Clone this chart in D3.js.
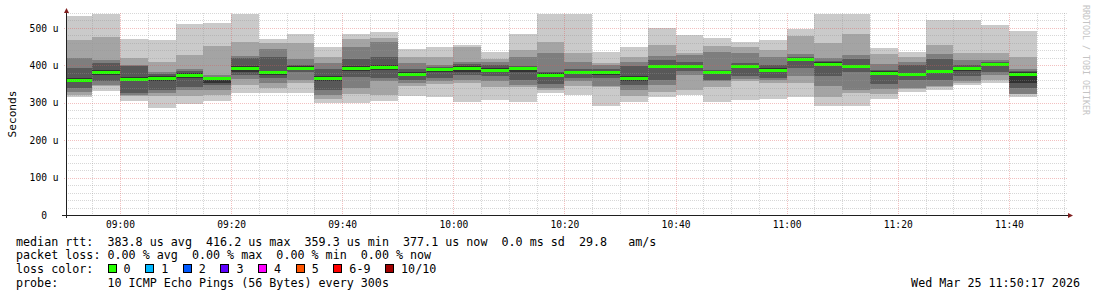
<!DOCTYPE html>
<html>
<head>
<meta charset="utf-8">
<script src="https://cdn.jsdelivr.net/npm/d3@7"></script>
<style>
  html, body { margin: 0; padding: 0; background: #fff; }
  svg text { font-family: "DejaVu Sans Mono", monospace; white-space: pre; }
</style>
</head>
<body>
<div id="chart"></div>
<script>
// graph window, kept in UTC so the local timezone moves nothing
const startTime = new Date(Date.UTC(2026, 2, 25, 8, 50, 17));
const endTime = new Date(Date.UTC(2026, 2, 25, 11, 50, 17));
const firstBar = new Date(Date.UTC(2026, 2, 25, 8, 50, 0));
const lastBarEnd = new Date(Date.UTC(2026, 2, 25, 11, 45, 0));

// 10 pings per 5 minute step, sorted low (ping1) to high (ping10), in us
const ping1 = [315,332,306,287,297,306,327,327,327,299,299,306,318,315,301,307,303,327,321,292,302,316,320,302,307,310,315,292,292,311,330,334,348,352,315];
const ping2 = [321,345,318,318,318,321,348,340,354,310,324,321,345,350,354,343,342,334,345,342,318,330,334,342,357,352,354,316,326,324,337,342,354,361,324];
const ping3 = [330,348,321,327,334,334,363,354,361,321,339,357,352,359,361,359,348,339,357,345,333,348,374,357,363,361,372,345,334,338,340,345,359,374,324];
const ping4 = [339,359,326,334,343,348,374,365,381,334,370,367,361,365,374,372,361,350,365,365,348,361,385,361,372,367,392,372,383,350,361,361,372,383,339];
const ping5 = [355,374,357,359,367,353,381,374,388,359,386,388,374,382,383,381,383,370,377,374,359,392,392,377,392,383,413,400,395,373,372,381,386,398,354];
const ping6 = [365,388,370,372,379,367,397,386,397,372,397,400,381,392,397,392,395,379,386,386,372,400,400,384,402,392,420,409,401,384,380,388,395,406,381];
const ping7 = [392,406,397,377,385,370,419,423,401,390,416,423,390,395,404,401,397,383,390,390,397,414,410,388,406,401,423,413,416,388,401,416,401,408,384];
const ping8 = [419,414,401,383,390,374,425,443,417,406,448,462,406,401,410,408,423,434,410,401,408,425,428,437,434,422,430,419,428,404,410,430,414,414,390];
const ping9 = [468,477,421,410,428,452,463,461,461,423,470,473,423,422,448,416,441,463,434,406,423,455,434,452,448,441,479,461,484,430,422,455,434,434,423];
const ping10 = [532,536,471,468,511,514,536,470,484,450,484,489,443,448,455,437,484,536,536,437,450,499,481,473,462,468,497,536,536,446,437,520,521,508,492];

// median rtt per step, us
const median = [360,382,363,366,374,365,393,382,393,366,393,395,378,389,393,388,392,375,382,382,366,397,397,381,398,388,417,405,398,380,376,384,392,403,378];

const yTicks = [0, 100, 200, 300, 400, 500];
const yMax = 540;

// smoke greys (outer pair lightest) and loss colours
const bandColors = ["#cacaca", "#a4a4a4", "#7e7e7e", "#585858", "#323232"];
const lossLabels = ["0", "1", "2", "3", "4", "5", "6-9", "10/10"];
const lossColors = ["#26ff00", "#00b8ff", "#0059ff", "#5e00ff", "#ff00ff", "#ff5500", "#ff0000", "#a00000"];

const legendLines = [
    "median rtt:  383.8 us avg  416.2 us max  359.3 us min  377.1 us now  0.0 ms sd  29.8   am/s",
    "packet loss: 0.00 % avg  0.00 % max  0.00 % min  0.00 % now",
    "loss color:",
    "probe:       10 ICMP Echo Pings (56 Bytes) every 300s"
];
const dateText = "Wed Mar 25 11:50:17 2026";

const width = 1097;
const height = 297;
const plot = {left: 66, right: 1066, top: 13, bottom: 215};

const x = d3.scaleUtc().domain([startTime, endTime]).range([plot.left, plot.right]);
const y = d3.scaleLinear().domain([0, yMax]).range([plot.bottom, plot.top]);

const svg = d3.select("#chart").append("svg")
    .attr("width", width)
    .attr("height", height)
    .attr("viewBox", [0, 0, width, height]);

svg.append("rect").attr("width", width).attr("height", height).attr("fill", "#fff");

svg.append("clipPath").attr("id", "plotclip")
    .append("rect")
    .attr("x", plot.left).attr("y", plot.top)
    .attr("width", plot.right - plot.left).attr("height", plot.bottom - plot.top);

// step start times
const barTimes = d3.utcMinute.every(5).range(firstBar, lastBarEnd);
const pings = [ping1, ping2, ping3, ping4, ping5, ping6, ping7, ping8, ping9, ping10];

const bars = svg.append("g")
    .attr("clip-path", "url(#plotclip)")
    .attr("shape-rendering", "crispEdges");

// smoke: pair k spans ping(k+1) .. ping(10-k)
bandColors.forEach((color, k) => {
    bars.append("g")
        .attr("fill", color)
        .selectAll("rect")
        .data(barTimes)
        .join("rect")
        .attr("x", d => Math.round(x(d)))
        .attr("width", d => Math.round(x(d3.utcMinute.offset(d, 5))) - Math.round(x(d)))
        .attr("y", (d, i) => Math.round(y(pings[9 - k][i])))
        .attr("height", (d, i) => Math.round(y(pings[k][i])) - Math.round(y(pings[9 - k][i])));
});

// median, coloured by loss (all 0 here)
bars.append("g")
    .attr("fill", lossColors[0])
    .selectAll("rect")
    .data(barTimes)
    .join("rect")
    .attr("x", d => Math.round(x(d)))
    .attr("width", d => Math.round(x(d3.utcMinute.offset(d, 5))) - Math.round(x(d)))
    .attr("y", (d, i) => Math.round(y(median[i])) - 1)
    .attr("height", 3);

// grid drawn over the smoke, like rrdtool
const grid = svg.append("g").attr("stroke-dasharray", "1,1").attr("fill", "none");
const minorY = d3.range(20, yMax + 1, 20).filter(v => v % 100 !== 0);
const majorY = yTicks.filter(v => v > 0);
const minorX = d3.utcMinute.every(5).range(d3.utcMinute.offset(firstBar, 5), endTime)
    .filter(t => t.getUTCMinutes() % 20 !== 0);
const majorX = x.ticks(d3.utcMinute.every(20));

const minorColor = "rgba(150,150,150,0.38)";
const majorColor = "rgba(222,90,90,0.38)";

grid.append("g").attr("stroke", minorColor)
    .selectAll("line").data(minorY).join("line")
    .attr("x1", plot.left).attr("x2", plot.right + 2)
    .attr("y1", d => Math.round(y(d)) + 0.5).attr("y2", d => Math.round(y(d)) + 0.5);
grid.append("g").attr("stroke", minorColor)
    .selectAll("line").data(minorX).join("line")
    .attr("x1", d => Math.round(x(d)) + 0.5).attr("x2", d => Math.round(x(d)) + 0.5)
    .attr("y1", plot.top).attr("y2", plot.bottom);
grid.append("g").attr("stroke", majorColor)
    .selectAll("line").data(majorY).join("line")
    .attr("x1", plot.left - 2).attr("x2", plot.right + 2)
    .attr("y1", d => Math.round(y(d)) + 0.5).attr("y2", d => Math.round(y(d)) + 0.5);
grid.append("g").attr("stroke", majorColor)
    .selectAll("line").data(majorX).join("line")
    .attr("x1", d => Math.round(x(d)) + 0.5).attr("x2", d => Math.round(x(d)) + 0.5)
    .attr("y1", plot.top).attr("y2", plot.bottom + 2);

// axis labels
svg.append("g")
    .attr("transform", `translate(${plot.left},0)`)
    .call(d3.axisLeft(y).tickValues(yTicks).tickSize(0).tickPadding(7.5)
        .tickFormat(d => d === 0 ? "0  " : `${d} u`))
    .call(g => g.select(".domain").remove())
    .call(g => g.selectAll("text").attr("font-size", 9.6).attr("fill", "#000")
        .attr("font-family", "DejaVu Sans Mono"));

svg.append("g")
    .attr("transform", `translate(0,${plot.bottom})`)
    .call(d3.axisBottom(x).ticks(d3.utcMinute.every(20)).tickSize(0).tickPadding(6.5)
        .tickFormat(d3.utcFormat("%H:%M")))
    .call(g => g.select(".domain").remove())
    .call(g => g.selectAll("text").attr("font-size", 9.6).attr("fill", "#000")
        .attr("font-family", "DejaVu Sans Mono"));

// axes lines and arrows
svg.append("line")
    .attr("x1", plot.left - 4).attr("x2", plot.right + 2)
    .attr("y1", plot.bottom + 0.5).attr("y2", plot.bottom + 0.5)
    .attr("stroke", "#1f1f1f");
svg.append("line")
    .attr("x1", plot.left + 0.5).attr("x2", plot.left + 0.5)
    .attr("y1", plot.bottom + 3).attr("y2", plot.top - 2)
    .attr("stroke", "#1f1f1f");
svg.append("path")
    .attr("d", `M${plot.left - 2},${plot.top} L${plot.left + 3},${plot.top} L${plot.left + 0.5},${plot.top - 5} Z`)
    .attr("fill", "#801f1f");
svg.append("path")
    .attr("d", `M${plot.right + 2},${plot.bottom - 2} L${plot.right + 2},${plot.bottom + 3} L${plot.right + 7},${plot.bottom + 0.5} Z`)
    .attr("fill", "#801f1f");

// vertical unit label
svg.append("text")
    .attr("transform", `translate(16,${(plot.top + plot.bottom) / 2}) rotate(-90)`)
    .attr("text-anchor", "middle")
    .attr("font-size", 11.2)
    .text("Seconds");

// watermark
svg.append("text")
    .attr("transform", "translate(1083,5) rotate(90)")
    .attr("font-size", 8.3)
    .attr("fill", "#c4c4c4")
    .text("RRDTOOL / TOBI OETIKER");

// legend
const legendBase = [245.5, 259, 272.5, 287];
const charW = 7.04;
svg.append("g")
    .attr("font-size", 11.7)
    .selectAll("text")
    .data(legendLines)
    .join("text")
    .attr("x", 16)
    .attr("y", (d, i) => legendBase[i])
    .text(d => d);

let bx = 16 + 13 * charW;
const lossItems = lossLabels.map((label, i) => {
    const item = {label, color: lossColors[i], x: bx};
    bx += 30.6 + label.length * charW;
    return item;
});
const lossG = svg.append("g");
lossItems.forEach(item => {
    lossG.append("rect")
        .attr("x", Math.round(item.x) + 0.5).attr("y", 264.5)
        .attr("width", 8).attr("height", 8)
        .attr("fill", item.color).attr("stroke", "#000");
    lossG.append("text")
        .attr("x", item.x + 16).attr("y", legendBase[2])
        .attr("font-size", 11.7)
        .text(item.label);
});

svg.append("text")
    .attr("x", 1080).attr("y", legendBase[3])
    .attr("text-anchor", "end")
    .attr("font-size", 11.7)
    .text(dateText);
</script>
</body>
</html>
